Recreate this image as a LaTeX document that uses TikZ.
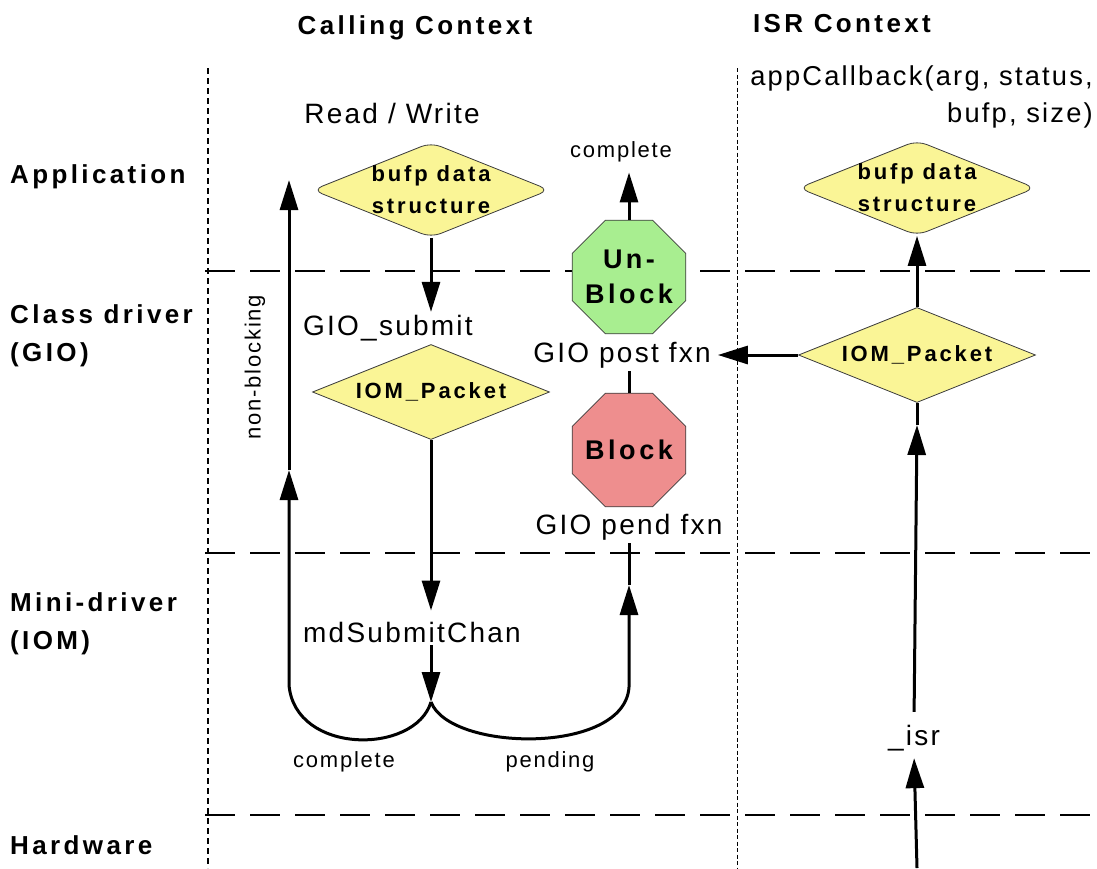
\documentclass[tikz,border=0pt]{standalone}
\usepackage{fontspec}
\setmainfont{Liberation Sans}[LetterSpace=8]
\newfontfamily\headfont{Liberation Sans}[LetterSpace=13]
\usetikzlibrary{shapes.geometric,arrows.meta}

\definecolor{padyellow}{RGB}{250,245,150}
\definecolor{unblockgreen}{RGB}{168,238,144}
\definecolor{blockred}{RGB}{238,142,142}
\definecolor{outline}{RGB}{60,60,60}

\tikzset{
  lane/.style={font=\headfont\fontsize{26}{38}\selectfont\bfseries, align=left, anchor=west, inner sep=0pt},
  ctx/.style={font=\headfont\fontsize{26}{30}\selectfont\bfseries, inner sep=0pt},
  call/.style={font=\fontsize{28}{37}\selectfont, inner sep=3pt},
  tag/.style={font=\fontsize{22}{26}\selectfont, inner sep=3pt},
  data/.style={diamond, draw=outline, line width=0.8pt, fill=padyellow, aspect=2.5,
    inner sep=-3pt, minimum width=237pt, minimum height=95pt,
    font=\headfont\fontsize{22}{32}\selectfont\bfseries, align=center},
  gate/.style={regular polygon, regular polygon sides=8, minimum size=123pt, inner sep=-4pt,
    draw=outline, line width=0.8pt, font=\headfont\fontsize{27}{35}\selectfont\bfseries, align=center},
  flow/.style={line width=3pt, -{Triangle[length=30pt,width=18pt]}},
  wire/.style={line width=3pt},
  level/.style={line width=1.9pt, dash pattern=on 30pt off 15pt},
}

\begin{document}
\begin{tikzpicture}[x=1pt, y=-1pt]
  \useasboundingbox (0,0) rectangle (1097,868);

  % --- Layer boundaries and the two context separators ---
  \foreach \y in {271,553,815}
    \draw[level] (205,\y) -- (1097,\y);
  \draw[line width=2.8pt, dash pattern=on 6pt off 4pt] (208,68) -- (208,868);
  \draw[line width=1pt, dash pattern=on 4pt off 2.5pt] (737,68) -- (737,868);

  % --- Headings ---
  \node[ctx] (calling) at (415,28) {Calling Context};
  \node[ctx] (isrctx) at (842,24) {ISR Context};
  \node[lane] (app) at (10,177) {Application};
  \node[lane] (gio) at (10,336) {Class driver\\(GIO)};
  \node[lane] (iom) at (10,624) {Mini-driver\\(IOM)};
  \node[lane] (hw) at (10,845) {Hardware};

  % --- Calling context: submit path ---
  \node[call] (rw) at (392,113) {Read / Write};
  \node[data, rounded corners=10pt] (bufpL) at (431,190) {bufp data\\structure};
  \node[call, anchor=west] (submit) at (300,328) {GIO\_submit};
  \node[data] (iomL) at (431,392) {IOM\_Packet};
  \node[call, anchor=west] (md) at (300,632) {mdSubmitChan};

  % blocking / unblocking in the class driver
  \node[gate, fill=unblockgreen] (unblock) at (629,277) {Un-\\Block};
  \node[gate, fill=blockred] (block) at (629,450) {Block};
  \node[call] (post) at (622,355) {GIO post fxn};
  \node[call] (pend) at (629,527) {GIO pend fxn};

  \node[tag] (doneA) at (621,152) {complete};
  \node[tag, rotate=90] (nonblk) at (255,367) {non-blocking};
  \node[tag] (doneB) at (344,762) {complete};
  \node[tag] (pending) at (550,762) {pending};

  % --- ISR context: callback path ---
  \node[call, font=\fontsize{27.3}{37}\selectfont, align=right, anchor=east] (cb) at (1096,97) {appCallback(arg, status,\\bufp, size)};
  \node[data, rounded corners=10pt] (bufpR) at (917,188) {bufp data\\structure};
  \node[data] (iomR) at (917,355) {IOM\_Packet};
  \node[call] (isr) at (914,738) {\_isr};

  % junctions of the return paths
  \coordinate (join) at (431,702);
  \coordinate (nbbend) at (289,685);
  \coordinate (nbmid) at (289,470);
  \coordinate (nbtop) at (289,180);
  \coordinate (pdbend) at (629,687);
  \coordinate (pdmid) at (629,585);
  \coordinate (isrin) at (917,868);
  \coordinate (isrmid) at (917,425);

  % --- Connectors ---
  \draw[flow] (bufpL.south) -- (bufpL.south |- submit.north);
  \draw[flow, shorten >=8pt] (iomL.south) -- (iomL.south |- md.north);
  \draw[flow] (md.south -| join) -- (join);
  \draw[flow] (join) .. controls (415,755) and (295,755) .. (nbbend) -- (nbmid);
  \draw[flow] (nbmid) -- (nbtop);
  \draw[flow] (join) .. controls (450,752) and (625,755) .. (pdbend) -- (pdmid);
  \draw[wire] (pdmid) -- (pend.south);
  \draw[wire] (block.north) -- (block.north |- post.south);
  \draw[flow, shorten >=7pt] (unblock.north) -- (unblock.north |- doneA.south);

  \draw[flow] (iomR.north) -- (bufpR.south);
  \draw[flow, shorten >=4pt] (iomR.west) -- (post.east);
  \draw[flow, shorten >=4pt] (isrin) -- (isr.south);
  \draw[flow, shorten <=10pt] (isr.north) -- (isrmid);
  \draw[wire] (isrmid) -- (iomR.south);

\end{tikzpicture}
\end{document}
